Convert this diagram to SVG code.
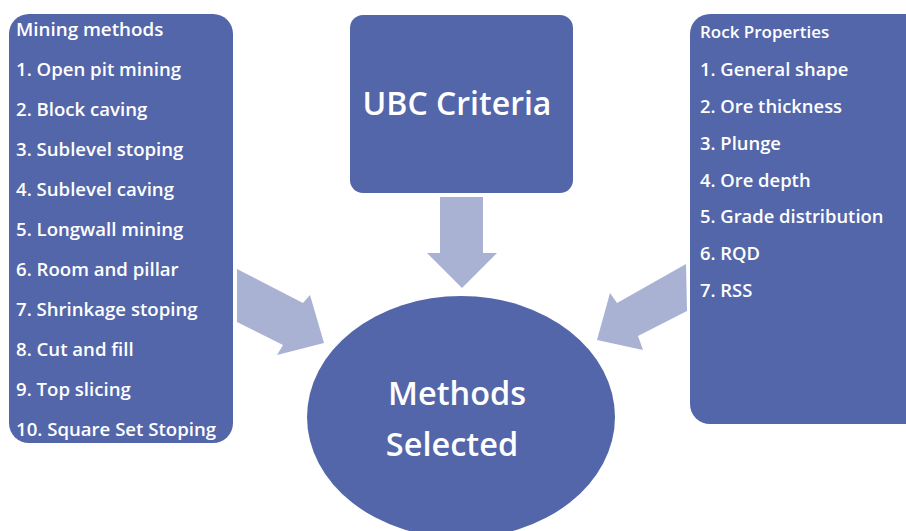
<svg xmlns="http://www.w3.org/2000/svg" width="906" height="531" viewBox="0 0 906 531">
<style>
.box{fill:#5366AA}
.arr{fill:#A9B2D3}
.t{font-family:"Open Sans","Noto Sans",sans-serif;font-weight:600;fill:#FFFFFF}
.s{font-size:18.6px}
.h{font-size:18.8px}
.r{font-size:18.4px}
.rh{font-size:17px}
.big{font-size:32px;text-anchor:middle}
.mid{font-size:32.5px;text-anchor:middle}
</style>
<rect width="906" height="531" fill="#FFFFFF"/>
<g id="connectors">
<polygon class="arr" points="237,269 303,303 310,295 324,343 277,355 283,345 237,322"/>
<polygon class="arr" points="686,264 617,303 610,293 597,340 643,350 638,336 687,311"/>
<polygon class="arr" points="440,197 483,197 483,253 497,253 462,288 427,253 440,253"/>
</g>
<g id="mining-methods">
<rect class="box" x="9" y="14" width="224" height="429" rx="20"/>
<text class="t h" x="16" y="36">Mining methods</text>
<text class="t s" x="16" y="76">1. Open pit mining</text>
<text class="t s" x="16" y="116">2. Block caving</text>
<text class="t s" x="16" y="156">3. Sublevel stoping</text>
<text class="t s" x="16" y="196">4. Sublevel caving</text>
<text class="t s" x="16" y="236">5. Longwall mining</text>
<text class="t s" x="16" y="276">6. Room and pillar</text>
<text class="t s" x="16" y="316">7. Shrinkage stoping</text>
<text class="t s" x="16" y="356">8. Cut and fill</text>
<text class="t s" x="16" y="396">9. Top slicing</text>
<text class="t s" x="16" y="436">10. Square Set Stoping</text>
</g>
<g id="ubc-criteria">
<rect class="box" x="350" y="15" width="223" height="178" rx="13"/>
<text class="t big" x="457" y="115">UBC Criteria</text>
</g>
<g id="rock-properties">
<rect class="box" x="690" y="14" width="240" height="410" rx="20"/>
<text class="t rh" x="700" y="38">Rock Properties</text>
<text class="t r" x="700" y="76">1. General shape</text>
<text class="t r" x="700" y="113">2. Ore thickness</text>
<text class="t r" x="700" y="150">3. Plunge</text>
<text class="t r" x="700" y="187">4. Ore depth</text>
<text class="t r" x="700" y="223">5. Grade distribution</text>
<text class="t r" x="700" y="260">6. RQD</text>
<text class="t r" x="700" y="297">7. RSS</text>
</g>
<g id="methods-selected">
<ellipse class="box" cx="461" cy="417" rx="154" ry="121"/>
<text class="t mid" x="457" y="405">Methods</text>
<text class="t mid" x="452" y="456">Selected</text>
</g>
</svg>
